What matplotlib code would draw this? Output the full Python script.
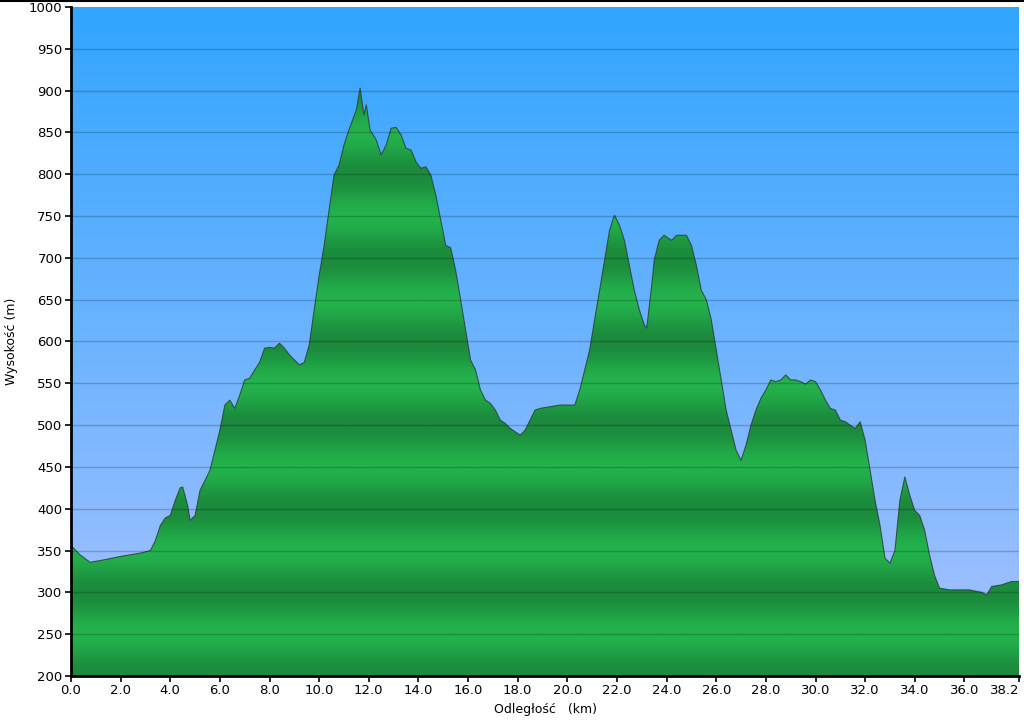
"""
Profil wysokości trasy - odtworzenie wykresu.
"""

import numpy as np
import matplotlib
matplotlib.use("Agg")
import matplotlib.pyplot as plt
from matplotlib.patches import Polygon
from matplotlib.colors import LinearSegmentedColormap

# odległość (km) i wysokość (m)
km = [0.0, 0.36, 0.77, 1.17, 2.0, 2.8, 3.2, 3.4, 3.6, 3.8, 4.0, 4.2, 4.4, 4.5,
      4.7, 4.8, 5.0, 5.2, 5.4, 5.6, 5.8, 6.0, 6.2, 6.4, 6.6, 6.8, 7.0, 7.2,
      7.4, 7.6, 7.8, 8.0, 8.2, 8.4, 8.6, 8.8, 9.0, 9.2, 9.4, 9.6, 9.8, 10.0,
      10.2, 10.4, 10.6, 10.8, 11.0, 11.2, 11.5, 11.65, 11.8, 11.9, 12.05,
      12.3, 12.5, 12.7, 12.9, 13.1, 13.3, 13.5, 13.7, 13.9, 14.1, 14.3, 14.5,
      14.7, 14.9, 15.1, 15.3, 15.5, 15.7, 15.9, 16.1, 16.3, 16.5, 16.7, 16.9,
      17.1, 17.3, 17.5, 17.7, 18.1, 18.3, 18.5, 18.7, 18.9, 19.3, 19.7, 20.1,
      20.3, 20.5, 20.7, 20.9, 21.1, 21.3, 21.5, 21.7, 21.9, 22.1, 22.3, 22.5,
      22.7, 22.9, 23.1, 23.2, 23.4, 23.5, 23.7, 23.9, 24.2, 24.4, 24.6, 24.8,
      25.0, 25.2, 25.4, 25.6, 25.8, 26.0, 26.2, 26.4, 26.6, 26.8, 27.0, 27.2,
      27.4, 27.6, 27.8, 28.0, 28.2, 28.4, 28.6, 28.8, 29.0, 29.2, 29.4, 29.6,
      29.8, 30.0, 30.2, 30.4, 30.6, 30.8, 31.0, 31.2, 31.4, 31.6, 31.8, 32.0,
      32.2, 32.4, 32.6, 32.8, 33.0, 33.2, 33.4, 33.6, 33.8, 34.0, 34.2, 34.4,
      34.6, 34.8, 35.0, 35.4, 35.8, 36.2, 36.7, 36.9, 37.1, 37.5, 37.9, 38.2]
elev = [356, 345, 336, 338, 343, 347, 350, 362, 380, 389, 392, 410, 425, 426,
        404, 386, 392, 422, 434, 446, 470, 494, 524, 530, 520, 536, 554, 556,
        566, 575, 592, 593, 592, 598, 592, 584, 578, 572, 575, 596, 638, 679,
        715, 757, 799, 811, 835, 853, 877, 903, 871, 883, 853,
        841, 823, 835, 855, 856, 847, 831, 829, 815, 807, 809, 799,
        775, 745, 715, 712, 685, 650, 614, 578, 566, 542, 530, 526,
        518, 506, 502, 496, 488, 494, 506, 518, 520, 522, 524, 524,
        524, 542, 566, 590, 626, 661, 697, 733, 751, 739, 721, 691,
        661, 638, 620, 616, 667, 697, 721, 727, 721, 727, 727, 727,
        715, 691, 661, 650, 626, 590, 554, 518, 494, 470, 458, 476,
        500, 518, 532, 542, 554, 552, 554, 560, 554, 554, 552, 549,
        554, 552, 542, 530, 520, 518, 506, 504, 500, 496, 504, 482,
        446, 410, 380, 341, 335, 350, 410, 438, 416, 398, 392, 374,
        344, 320, 305, 303, 303, 303, 300, 297, 307, 309, 313, 313]

x_ticks = [0, 2, 4, 6, 8, 10, 12, 14, 16, 18, 20, 22, 24, 26, 28, 30, 32,
           34, 36, 38.2]
y_ticks = list(range(200, 1001, 50))

X_MAX = 38.2
Y_MIN, Y_MAX = 200, 1000

SKY_TOP = "#31A5FF"
SKY_BOT = "#A9C2FF"
GREEN_LIGHT = "#23B24C"
GREEN_DARK = "#1B8A3C"

fig = plt.figure(figsize=(10.24, 7.21), dpi=100)
ax = fig.add_axes([71 / 1024, 1 - 676 / 721, (1019 - 71) / 1024, (676 - 7) / 721])

# tło - gradient nieba
sky = LinearSegmentedColormap.from_list("sky", [SKY_BOT, SKY_TOP])
grad = np.linspace(0, 1, 256).reshape(-1, 1)
ax.imshow(grad, extent=[0, X_MAX, Y_MIN, Y_MAX], origin="lower",
          aspect="auto", cmap=sky, zorder=0)

# wypełnienie profilu - pasy co 100 m
verts = np.column_stack([np.r_[km, km[-1], km[0]], np.r_[elev, Y_MIN, Y_MIN]])
shape = Polygon(verts, closed=True, facecolor="none", edgecolor="none",
                transform=ax.transData)
ax.add_patch(shape)
hv = np.linspace(Y_MIN, Y_MAX, 800).reshape(-1, 1)
band = 0.5 * (1 - np.cos(2 * np.pi * hv / 100.0))
greens = LinearSegmentedColormap.from_list("greens", [GREEN_DARK, GREEN_LIGHT])
img = ax.imshow(band, extent=[0, X_MAX, Y_MIN, Y_MAX], origin="lower",
                aspect="auto", cmap=greens, zorder=1)
img.set_clip_path(shape)

ax.plot(km, elev, color="#2c3a30", lw=0.8, alpha=0.8, zorder=2)

# siatka
for yv in y_ticks[1:-1]:
    ax.axhline(yv, color="#000000", alpha=0.2, lw=1.0, zorder=3)

ax.set_xlim(0, X_MAX)
ax.set_ylim(Y_MIN, Y_MAX)
ax.set_xticks(x_ticks)
ax.set_xticklabels([f"{v:.1f}" for v in x_ticks])
ax.get_xticklabels()[-1].set_horizontalalignment("right")
ax.set_yticks(y_ticks)
ax.tick_params(direction="out", length=4, width=1.2, labelsize=9.5,
               colors="black", pad=2)
for side in ("top", "right"):
    ax.spines[side].set_visible(False)
for side in ("left", "bottom"):
    ax.spines[side].set_linewidth(2)
    ax.spines[side].set_zorder(5)

ax.set_ylabel("Wysokość (m)", fontsize=9, labelpad=8)
ax.set_xlabel("Odległość   (km)", fontsize=9, labelpad=4)

# ramka u góry obrazka
fig.add_artist(plt.Line2D([0, 1], [0.998, 0.998], color="black", lw=1.5,
                          transform=fig.transFigure))

fig.savefig("out.png", dpi=100)
plt.close(fig)
